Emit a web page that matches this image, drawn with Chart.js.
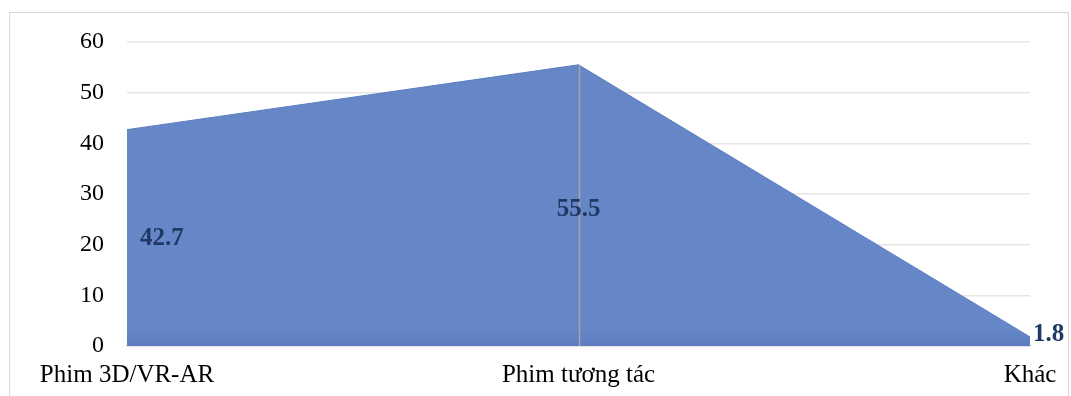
<!DOCTYPE html>
<html>
<head>
<meta charset="utf-8">
<script src="https://cdn.jsdelivr.net/npm/chart.js@4/dist/chart.umd.min.js"></script>
<style>
  html, body { margin: 0; padding: 0; background: #fff; }
  #wrap { position: relative; width: 1071px; height: 396px; overflow: hidden; }
  #frame { position: absolute; left: 9px; top: 12px; width: 1058px; height: 420px; border: 1px solid #d9d9d9; }
  canvas { position: absolute; left: 0; top: 0; }
</style>
</head>
<body>
<div id="wrap">
  <div id="frame"></div>
  <canvas id="chart" width="1071" height="396"></canvas>
</div>
<script>
// data
const categories = ['Phim 3D/VR-AR', 'Phim tương tác', 'Khác'];
const values = [42.7, 55.5, 1.8];
const yTicks = [0, 10, 20, 30, 40, 50, 60];

const serif = '"Liberation Serif", "Times New Roman", serif';

// gray drop line from the middle point + value labels
const extras = {
  id: 'extras',
  afterDatasetsDraw(chart) {
    const { ctx } = chart;
    const meta = chart.getDatasetMeta(0);
    const y = chart.scales.y;
    ctx.save();
    // drop line
    const mid = meta.data[1];
    ctx.strokeStyle = '#a6a6a6';
    ctx.lineWidth = 1.5;
    ctx.beginPath();
    ctx.moveTo(Math.round(mid.x) + 0.5, mid.y);
    ctx.lineTo(Math.round(mid.x) + 0.5, y.getPixelForValue(0));
    ctx.stroke();
    // labels
    ctx.font = 'bold 25px ' + serif;
    ctx.fillStyle = '#1f3864';
    ctx.textBaseline = 'middle';
    meta.data.forEach((pt, i) => {
      const v = values[i];
      const txt = v.toFixed(1);
      if (i === 0) {
        ctx.textAlign = 'left';
        ctx.fillText(txt, pt.x + 13, y.getPixelForValue(v / 2) + 1);
      } else if (i === values.length - 1) {
        ctx.textAlign = 'left';
        ctx.fillText(txt, pt.x + 3, y.getPixelForValue(v / 2) - 7);
      } else {
        ctx.textAlign = 'center';
        ctx.fillText(txt, pt.x, y.getPixelForValue(v / 2) + 4);
      }
    });
    ctx.restore();
  }
};

const ctx = document.getElementById('chart').getContext('2d');
const grad = ctx.createLinearGradient(0, 42, 0, 346);
grad.addColorStop(0, '#5d7ec2');
grad.addColorStop(0.08, '#6587c8');
grad.addColorStop(0.94, '#6587c8');
grad.addColorStop(1, '#5c7cbf');

new Chart(ctx, {
  type: 'line',
  data: {
    labels: categories,
    datasets: [{
      data: values,
      fill: 'origin',
      backgroundColor: grad,
      borderColor: '#5b7dc0',
      borderWidth: 1,
      pointRadius: 0,
      tension: 0,
    }],
  },
  options: {
    responsive: false,
    animation: false,
    layout: { padding: { top: 42, right: 41, left: 0, bottom: 0 } },
    plugins: { legend: { display: false }, tooltip: { enabled: false } },
    scales: {
      x: {
        offset: false,
        grid: { display: false, drawTicks: false },
        border: { display: true, color: '#d9d9d9', width: 1.5 },
        ticks: { color: '#000', font: { family: serif, size: 25 }, padding: 14, maxRotation: 0 },
        afterFit(scale) { scale.height = 50; },
      },
      y: {
        min: 0,
        max: 60,
        afterBuildTicks(scale) { scale.ticks = yTicks.map(v => ({ value: v })); },
        grid: { color: '#e6e6e6', lineWidth: 1.5, drawTicks: false },
        border: { display: false },
        ticks: { color: '#000', font: { family: serif, size: 24 }, padding: 23 },
        afterFit(scale) { scale.width = 127; },
      },
    },
  },
  plugins: [extras],
});
</script>
</body>
</html>
